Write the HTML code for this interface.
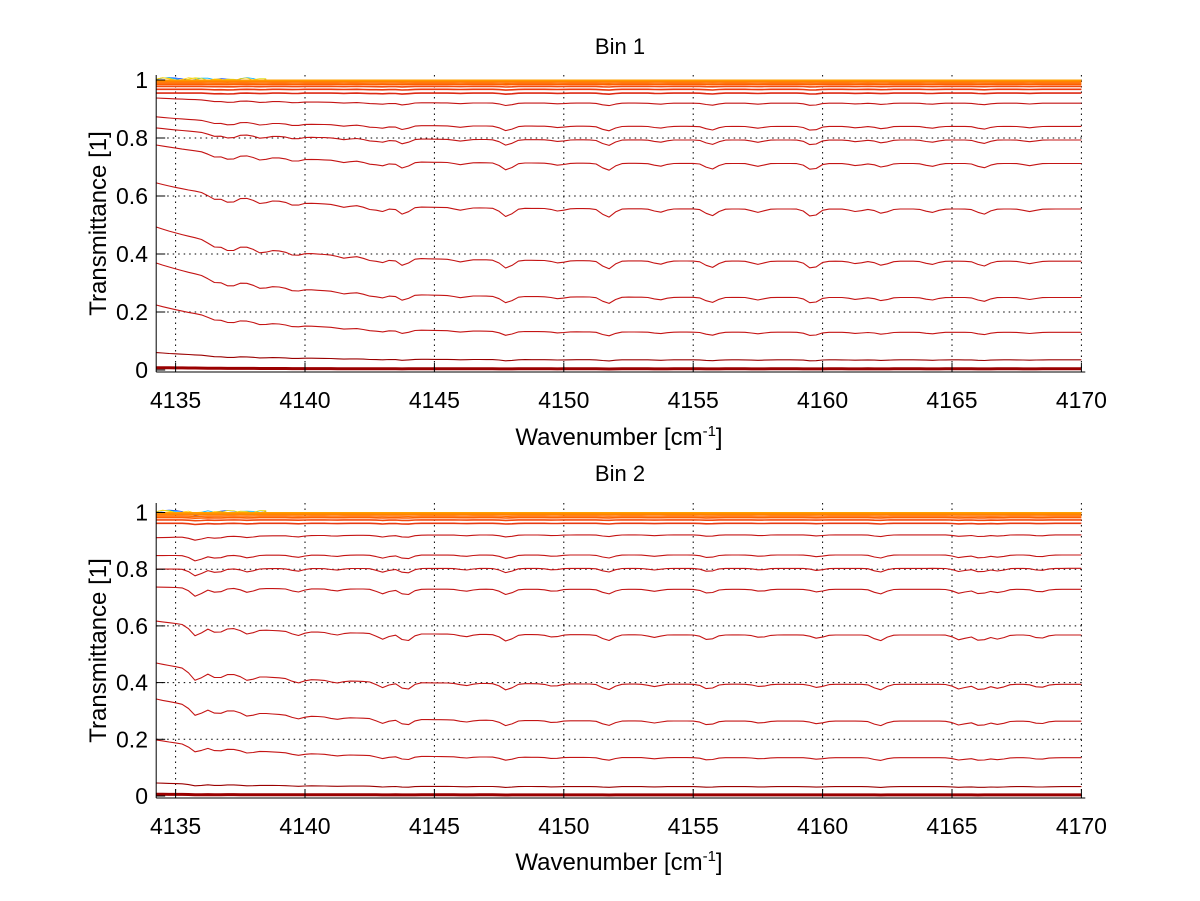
<!DOCTYPE html>
<html><head><meta charset="utf-8"><style>
html,body{margin:0;padding:0;background:#fff;}
svg{display:block;font-family:"Liberation Sans",Arial,sans-serif;}
</style></head><body>
<svg id="chart" width="1200" height="901" viewBox="0 0 1200 901" xmlns="http://www.w3.org/2000/svg"></svg>
<script>
// ---- data ----
const xTicks = [4135, 4140, 4145, 4150, 4155, 4160, 4165, 4170];
const yTicks = [0, 0.2, 0.4, 0.6, 0.8, 1];
const yTickLabels = ["0", "0.2", "0.4", "0.6", "0.8", "1"];
// Bin 1: value at left edge (start) and at right edge (end) for each curve
const bin1Start = [0.938, 0.873, 0.835, 0.776, 0.645, 0.493, 0.369, 0.224, 0.060, 0.008];
const bin1End   = [0.920, 0.840, 0.793, 0.712, 0.555, 0.375, 0.250, 0.130, 0.035, 0.004];
const bin1DipCenters  = [4136.5, 4137.1, 4138.3, 4139.6, 4141.5, 4142.5, 4143.0, 4143.8, 4146.0, 4147.8, 4149.8, 4151.7, 4153.7, 4155.7, 4157.5, 4159.6, 4161.3, 4162.3, 4164.2, 4166.2, 4168.0];
const bin1DipStrength = [0.6, 0.8, 0.5, 0.4, 0.3, 0.4, 0.6, 0.9, 0.3, 1.0, 0.3, 1.0, 0.4, 0.8, 0.4, 0.9, 0.3, 0.5, 0.4, 0.6, 0.3];
const bin1Top = [0.999, 0.995, 0.990, 0.985, 0.978, 0.968, 0.955];
// Bin 2
const bin2Start = [0.911, 0.848, 0.800, 0.737, 0.617, 0.469, 0.342, 0.198, 0.046, 0.006];
const bin2End   = [0.921, 0.850, 0.803, 0.729, 0.568, 0.394, 0.264, 0.135, 0.033, 0.004];
const bin2DipCenters  = [4135.8, 4136.6, 4137.8, 4139.7, 4141.2, 4143.0, 4143.9, 4146.2, 4147.8, 4149.6, 4151.7, 4153.5, 4155.6, 4157.6, 4159.8, 4162.2, 4165.3, 4166.1, 4166.8, 4168.4];
const bin2DipStrength = [1.3, 0.7, 0.6, 0.5, 0.3, 0.7, 0.9, 0.3, 0.8, 0.3, 0.7, 0.3, 0.6, 0.3, 0.4, 0.7, 0.6, 0.7, 0.5, 0.4];
const bin2Top = [0.999, 0.994, 0.988, 0.982, 0.974, 0.962];

const NS = "http://www.w3.org/2000/svg";
const svg = document.getElementById("chart");
function mk(tag, attrs, parent) {
  const e = document.createElementNS(NS, tag);
  for (const k in attrs) e.setAttribute(k, attrs[k]);
  (parent || svg).appendChild(e);
  return e;
}

function drawPanel(p) {
  const g = mk("g", {});
  
  
  const xs = v => p.x0 + (v - 4135) * p.kx;
  const ys = v => p.y0 - v * p.ky;
  const xmin = 4134.25, xmax = 4170.15;
  const left = xs(xmin), right = xs(xmax);
  const bottom = p.bottom, top = p.top;
  xTicks.forEach(t => {
    const l = mk("line", {x1: xs(t), x2: xs(t), y1: top, y2: bottom, stroke: "#000", "stroke-width": 1, "stroke-dasharray": "1.5,4"}, g);
    
    
  });
  yTicks.forEach(t => {
    if (t === 0) return;
    const l = mk("line", {x1: left, x2: right, y1: ys(t), y2: ys(t), stroke: "#000", "stroke-width": 1, "stroke-dasharray": "1.5,4"}, g);
    
    
  });
  const step = 0.25;
  function dipAt(x) {
    let d = 0;
    for (let i = 0; i < p.dipC.length; i++) {
      const w = 0.3;
      d += p.dipS[i] * Math.exp(-Math.pow((x - p.dipC[i]) / w, 2));
    }
    return d;
  }
  function curve(startV, endV, depthScale, color, width, name) {
    let pts = [];
    for (let x = xmin; x <= xmax + 1e-6; x += step) {
      const dec = Math.exp(-(x - xmin) / 4);
      let T = endV + (startV - endV) * dec;
      T -= dipAt(x) * depthScale * 0.12 * T * (1 - T);
      pts.push(xs(x).toFixed(1) + "," + ys(T).toFixed(1));
    }
    const pl = mk("polyline", {points: pts.join(" "), fill: "none", stroke: color, "stroke-width": width, "stroke-linejoin": "round"}, g);
    
    
  }
  const topColors = ["#ffa000", "#ff8400", "#ff7000", "#ff6000", "#f24a10", "#e83a10", "#dd2a14"];
  // colourful noisy early traces
  const jet = ["#0040ff", "#00b0ff", "#e0e020", "#ffd000"];
  jet.forEach((c, i) => {
    let pts = [];
    for (let x = xmin; x <= 4138.5; x += step) {
      const T = 1.003 + 0.005 * Math.sin((x - xmin) * (3 + i)) - dipAt(x) * 0.006;
      pts.push(xs(x).toFixed(1) + "," + ys(T).toFixed(1));
    }
    const pl = mk("polyline", {points: pts.join(" "), fill: "none", stroke: c, "stroke-width": 0.8}, g);
    
    
  });
  p.topVals.forEach((v, i) => curve(v, v, 0.8, topColors[i % topColors.length], 1.6, "near-unity-curve"));
  p.start.forEach((s, i) => {
    const e = p.end[i];
    const low = e < 0.05;
    curve(s, e, 1, low ? "#9a0000" : "#c41414", e < 0.01 ? 3 : 1.1, "transmittance-curve");
  });
  const ax = mk("line", {x1: left, x2: left, y1: top, y2: bottom, stroke: "#000", "stroke-width": 1}, g);
  
  
  const bx = mk("line", {x1: left, x2: right, y1: bottom, y2: bottom, stroke: "#000", "stroke-width": 1}, g);
  
  
  xTicks.forEach(t => {
    mk("line", {x1: xs(t), x2: xs(t), y1: bottom, y2: bottom - 9, stroke: "#000"}, g);
    const tx = mk("text", {x: xs(t), y: bottom + 36, "text-anchor": "middle", "font-size": 23}, g);
    tx.textContent = t;
    
    
  });
  yTicks.forEach((t, i) => {
    mk("line", {x1: left, x2: left + 9, y1: ys(t), y2: ys(t), stroke: "#000"}, g);
    const tx = mk("text", {x: 148, y: ys(t) + 8, "text-anchor": "end", "font-size": 23}, g);
    tx.textContent = yTickLabels[i];
    
    
  });
  const ti = mk("text", {x: 620, y: p.titleY, "text-anchor": "middle", "font-size": 22}, g);
  ti.textContent = p.title;
  
  
  const xl = mk("text", {x: 619, y: p.xlabY, "text-anchor": "middle", "font-size": 24}, g);
  xl.innerHTML = 'Wavenumber [cm<tspan dy="-9" font-size="15">-1</tspan><tspan dy="9">]</tspan>';
  
  
  const cy = (top + bottom) / 2;
  const yl = mk("text", {x: 0, y: 0, "text-anchor": "middle", "font-size": 24, transform: "translate(106," + cy + ") rotate(-90)"}, g);
  yl.textContent = "Transmittance [1]";
  
  
}

drawPanel({name: "bin-1-panel", title: "Bin 1", x0: 175.6, kx: 25.88, y0: 370, ky: 290, top: 75, bottom: 372,
  titleY: 54, xlabY: 445, start: bin1Start, end: bin1End, dipC: bin1DipCenters, dipS: bin1DipStrength, topVals: bin1Top});
drawPanel({name: "bin-2-panel", title: "Bin 2", x0: 175.6, kx: 25.88, y0: 796, ky: 283.5, top: 503, bottom: 798,
  titleY: 481, xlabY: 870, start: bin2Start, end: bin2End, dipC: bin2DipCenters, dipS: bin2DipStrength, topVals: bin2Top});
</script>
</body></html>
